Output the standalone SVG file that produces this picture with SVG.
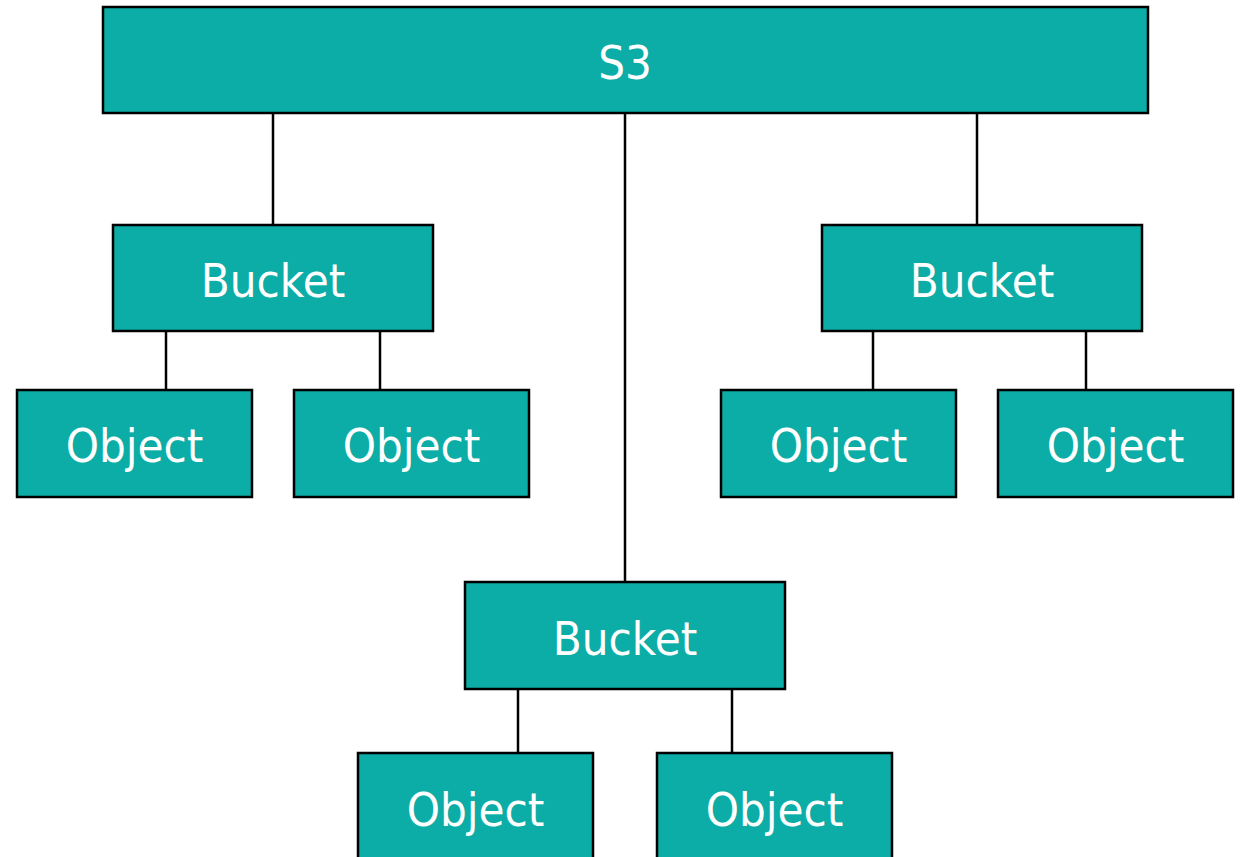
<svg xmlns="http://www.w3.org/2000/svg" width="1243" height="857" viewBox="0 0 1243 857">
<style>
.box{fill:#0BADA6;stroke:#000;stroke-width:2.5}
.lbl{fill:#fff;font-family:"DejaVu Sans Condensed","DejaVu Sans",sans-serif;font-size:47px;text-anchor:middle}
.con line{stroke:#000;stroke-width:2.5}
</style>
<rect width="1243" height="857" fill="#fff"/>
<g id="connectors" class="con">
<line x1="273" y1="113" x2="273" y2="225"/>
<line x1="625" y1="113" x2="625" y2="582"/>
<line x1="977" y1="113" x2="977" y2="225"/>
<line x1="166" y1="331" x2="166" y2="390"/>
<line x1="380" y1="331" x2="380" y2="390"/>
<line x1="873" y1="331" x2="873" y2="390"/>
<line x1="1086" y1="331" x2="1086" y2="390"/>
<line x1="518" y1="689" x2="518" y2="753"/>
<line x1="732" y1="689" x2="732" y2="753"/>
</g>
<g id="s3"><rect class="box" x="103" y="7" width="1045" height="106"/><text class="lbl" x="625" y="79">S3</text></g>
<g id="bucket1"><rect class="box" x="113" y="225" width="320" height="106"/><text class="lbl" x="273" y="297">Bucket</text></g>
<g id="bucket2"><rect class="box" x="822" y="225" width="320" height="106"/><text class="lbl" x="982" y="297">Bucket</text></g>
<g id="bucket3"><rect class="box" x="465" y="582" width="320" height="107"/><text class="lbl" x="625" y="655">Bucket</text></g>
<g id="object1"><rect class="box" x="17" y="390" width="235" height="107"/><text class="lbl" x="134.5" y="462">Object</text></g>
<g id="object2"><rect class="box" x="294" y="390" width="235" height="107"/><text class="lbl" x="411.5" y="462">Object</text></g>
<g id="object3"><rect class="box" x="721" y="390" width="235" height="107"/><text class="lbl" x="838.5" y="462">Object</text></g>
<g id="object4"><rect class="box" x="998" y="390" width="235" height="107"/><text class="lbl" x="1115.5" y="462">Object</text></g>
<g id="object5"><rect class="box" x="358" y="753" width="235" height="110"/><text class="lbl" x="475.5" y="826">Object</text></g>
<g id="object6"><rect class="box" x="657" y="753" width="235" height="110"/><text class="lbl" x="774.5" y="826">Object</text></g>
</svg>
